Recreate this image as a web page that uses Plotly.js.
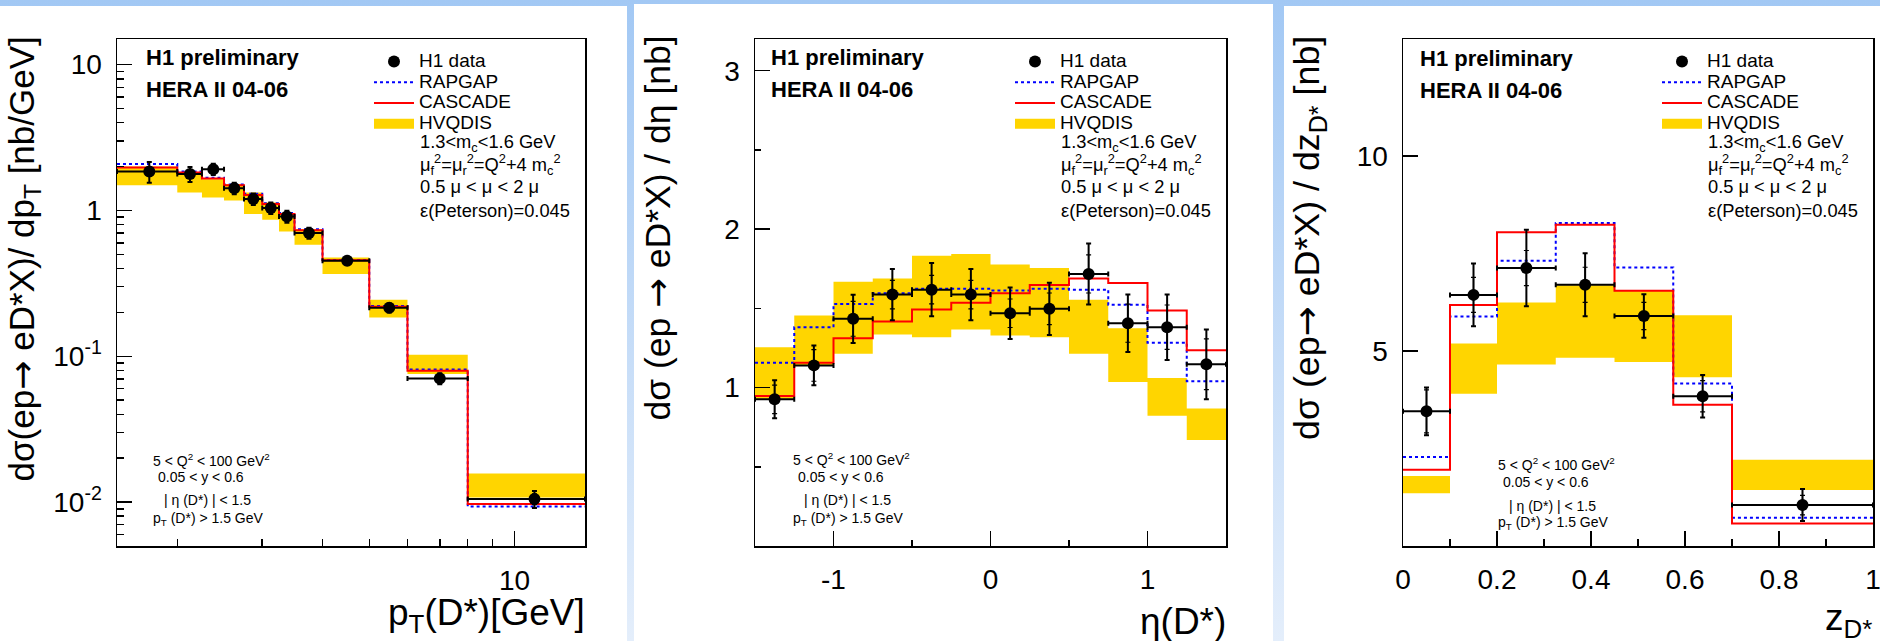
<!DOCTYPE html>
<html><head><meta charset="utf-8">
<script src="https://cdn.plot.ly/plotly-3.0.1.min.js"></script>
<style>
html,body{margin:0;padding:0;background:#fff;}
#wrap{position:relative;width:1880px;height:641px;background:linear-gradient(#a2c8f4,#e4eefb);overflow:hidden;}
.pn{position:absolute;background:#fff;bottom:0;}
#plot{position:absolute;left:0;top:0;width:1880px;height:641px;}
</style></head><body>
<div id="wrap">
<div class="pn" style="left:0;width:627px;top:6px"></div>
<div class="pn" style="left:634px;width:639px;top:4px"></div>
<div class="pn" style="left:1284px;width:596px;top:6px"></div>
<div id="plot"></div>
</div>
<script>
// ---- p_T(D*) panel ----
const ptEdges   = [1.5, 2.0, 2.25, 2.5, 2.75, 3.0, 3.25, 3.5, 4.0, 5.0, 6.0, 8.0, 14.0];
const ptData    = [1.85, 1.78, 1.92, 1.42, 1.20, 1.04, 0.91, 0.70, 0.452, 0.215, 0.0704, 0.0105];
const ptErr     = [0.30, 0.21, 0.17, 0.13, 0.11, 0.095, 0.085, 0.06, 0.03, 0.015, 0.006, 0.0014];
const ptStat    = [0.12, 0.09, 0.08, 0.06, 0.05, 0.04, 0.04, 0.03, 0.015, 0.008, 0.004, 0.0009];
const ptRapgap  = [2.08, 1.85, 1.68, 1.51, 1.30, 1.12, 0.96, 0.745, 0.458, 0.221, 0.0812, 0.00933];
const ptCascade = [1.97, 1.82, 1.66, 1.49, 1.275, 1.106, 0.945, 0.733, 0.455, 0.2186, 0.0796, 0.0097];
const ptHvqLo   = [1.49, 1.33, 1.23, 1.17, 0.945, 0.863, 0.718, 0.582, 0.367, 0.1846, 0.0755, 0.01076];
const ptHvqHi   = [2.0, 1.76, 1.64, 1.52, 1.33, 1.135, 0.945, 0.745, 0.476, 0.244, 0.1024, 0.0157];

// ---- eta(D*) panel ----
const etaEdges   = [-1.5, -1.25, -1.0, -0.75, -0.5, -0.25, 0, 0.25, 0.5, 0.75, 1.0, 1.25, 1.5];
const etaData    = [0.926, 1.14, 1.434, 1.587, 1.618, 1.587, 1.469, 1.497, 1.717, 1.406, 1.381, 1.147];
const etaErr     = [0.12, 0.126, 0.152, 0.162, 0.168, 0.162, 0.162, 0.165, 0.193, 0.181, 0.207, 0.22];
const etaStat    = [0.09, 0.10, 0.11, 0.09, 0.09, 0.09, 0.09, 0.10, 0.12, 0.12, 0.14, 0.16];
const etaRapgap  = [1.157, 1.381, 1.528, 1.595, 1.623, 1.623, 1.612, 1.623, 1.618, 1.522, 1.283, 1.04];
const etaCascade = [0.947, 1.157, 1.312, 1.417, 1.492, 1.535, 1.595, 1.648, 1.689, 1.66, 1.486, 1.235];
const etaHvqLo   = [0.929, 1.14, 1.214, 1.335, 1.318, 1.367, 1.329, 1.318, 1.214, 1.035, 0.822, 0.669];
const etaHvqHi   = [1.255, 1.455, 1.668, 1.689, 1.832, 1.843, 1.776, 1.755, 1.555, 1.375, 1.061, 0.868];

// ---- z(D*) panel ----
const zEdges   = [0, 0.1, 0.2, 0.325, 0.45, 0.575, 0.7, 1.0];
const zData    = [3.453, 6.439, 7.127, 6.698, 5.898, 3.839, 1.05];
const zErr     = [0.614, 0.807, 0.98, 0.81, 0.56, 0.545, 0.41];
const zStat    = [0.55, 0.45, 0.45, 0.45, 0.35, 0.40, 0.25];
const zRapgap  = [2.28, 5.883, 7.315, 8.285, 7.144, 4.166, 0.724];
const zCascade = [1.952, 6.182, 8.046, 8.234, 6.542, 3.625, 0.579];
const zHvqLo   = [1.35, 3.906, 4.655, 4.827, 4.716, 4.328, 1.437];
const zHvqHi   = [1.797, 5.195, 6.244, 6.689, 6.542, 5.917, 2.209];

// ---- tick labels ----
const ptYTickVals  = [0.01, 0.1, 1, 10];
const ptYTickText  = ['10<sup>-2</sup>', '10<sup>-1</sup>', '1', '10'];
const ptXTickVals  = [10];
const ptXTickText  = ['10'];
const etaXTickVals = [-1, 0, 1];
const etaXTickText = ['-1', '0', '1'];
const etaYTickVals = [1, 2, 3];
const etaYTickText = ['1', '2', '3'];
const zXTickVals   = [0, 0.2, 0.4, 0.6, 0.8, 1];
const zXTickText   = ['0', '0.2', '0.4', '0.6', '0.8', '1'];
const zYTickVals   = [5, 10];
const zYTickText   = ['5', '10'];

const FONT = 'Liberation Sans, Arial, Helvetica, sans-serif';
const YEL = '#ffd500';
const W = 1880, H = 641;
const px = v => v / W;
const py = v => 1 - v / H;
const LEGSIZE = 19;
const EXTRASIZE = 18.3;

function centers(e) { return e.slice(0, -1).map((v, i) => (v + e[i + 1]) / 2); }
function stepY(v) { return v.concat([v[v.length - 1]]); }
function bandXY(e, lo, hi) {
  const x = [], y = [];
  for (let i = 0; i < lo.length; i++) {
    x.push(e[i], e[i + 1], e[i + 1], e[i], e[i], null);
    y.push(lo[i], lo[i], hi[i], hi[i], lo[i], null);
  }
  return {x, y};
}
const big = s => '<span style="font-size:' + LEGSIZE + 'px">' + s + '</span>';
const arrow = '<span style="font-family:DejaVu Sans">→</span>';

function panelTraces(e, data, err, stat, rap, cas, lo, hi, xa, ya, leg, msize) {
  const c = centers(e);
  const band = bandXY(e, lo, hi);
  const exP = c.map((v, i) => e[i + 1] - v);
  const exM = c.map((v, i) => v - e[i]);
  return [
    {type: 'scatter', x: band.x, y: band.y, xaxis: xa, yaxis: ya, mode: 'lines', fill: 'toself',
     fillcolor: YEL, line: {width: 0, color: YEL}, showlegend: false, hoverinfo: 'skip', legend: leg},
    {type: 'scatter', x: [null], y: [null], xaxis: xa, yaxis: ya, mode: 'lines',
     line: {color: YEL, width: 16}, name: big('HVQDIS'), legend: leg, legendrank: 4},
    {type: 'scatter', x: e, y: stepY(rap), xaxis: xa, yaxis: ya, mode: 'lines',
     line: {shape: 'hv', color: '#0000ff', width: 2, dash: 'dot'}, name: big('RAPGAP'), legend: leg, legendrank: 2},
    {type: 'scatter', x: e, y: stepY(cas), xaxis: xa, yaxis: ya, mode: 'lines',
     line: {shape: 'hv', color: '#ff0000', width: 2}, name: big('CASCADE'), legend: leg, legendrank: 3},
    {type: 'scatter', x: c, y: data, xaxis: xa, yaxis: ya, mode: 'markers',
     marker: {size: 1, opacity: 0}, showlegend: false, legend: leg,
     error_y: {type: 'data', array: stat, color: '#000', thickness: 1.2, width: 2.5}},
    {type: 'scatter', x: c, y: data, xaxis: xa, yaxis: ya, mode: 'markers',
     marker: {color: '#000', size: msize}, name: big('H1 data'), legend: leg, legendrank: 1,
     error_y: {type: 'data', array: err, color: '#000', thickness: 2, width: 2.5},
     error_x: {type: 'data', symmetric: false, array: exP, arrayminus: exM, color: '#000', thickness: 2, width: 2.5}}
  ];
}

const traces = [].concat(
  panelTraces(ptEdges, ptData, ptErr, ptStat, ptRapgap, ptCascade, ptHvqLo, ptHvqHi, 'x', 'y', 'legend', 12),
  panelTraces(etaEdges, etaData, etaErr, etaStat, etaRapgap, etaCascade, etaHvqLo, etaHvqHi, 'x2', 'y2', 'legend2', 12),
  panelTraces(zEdges, zData, zErr, zStat, zRapgap, zCascade, zHvqLo, zHvqHi, 'x3', 'y3', 'legend3', 12)
);

function decadeMinors(lo, hi) {
  const out = [];
  for (let d = lo; d <= hi; d++) for (let k = 2; k <= 9; k++) out.push(k * Math.pow(10, d));
  return out;
}

function axis(dom, extra) {
  return Object.assign({
    domain: dom, showline: true, mirror: true, linecolor: '#000', linewidth: 1.5,
    showgrid: false, zeroline: false, ticks: 'inside', ticklen: 15, tickwidth: 1.5, tickcolor: '#000',
    tickmode: 'array', tickfont: {family: FONT, size: 28, color: '#000'}, fixedrange: true,
    ticklabeloverflow: 'allow'
  }, extra);
}
const yDom = [py(546), py(39)];

const layout = {
  width: W, height: H, margin: {l: 0, r: 0, t: 0, b: 0},
  paper_bgcolor: 'rgba(0,0,0,0)', plot_bgcolor: '#fff',
  font: {family: FONT, color: '#000'},
  showlegend: true,
  xaxis: axis([px(117), px(585)], {type: 'log', range: [Math.log10(1.5), Math.log10(14)], anchor: 'y',
    tickvals: ptXTickVals, ticktext: ptXTickText, ticklabelstandoff: 9,
    minor: {tickmode: 'array', tickvals: decadeMinors(0, 0), ticks: 'inside', ticklen: 7, tickwidth: 1.5, tickcolor: '#000', showgrid: false}}),
  yaxis: axis(yDom, {type: 'log', range: [Math.log10(0.005), Math.log10(15)], anchor: 'x',
    tickvals: ptYTickVals, ticktext: ptYTickText, ticklabelstandoff: 8,
    minor: {tickmode: 'array', tickvals: decadeMinors(-3, 0), ticks: 'inside', ticklen: 7, tickwidth: 1.5, tickcolor: '#000', showgrid: false}}),
  xaxis2: axis([px(755), px(1226)], {range: [-1.5, 1.5], anchor: 'y2',
    tickvals: etaXTickVals, ticktext: etaXTickText, ticklabelstandoff: 8,
    minor: {tickmode: 'array', tickvals: [-0.5, 0.5], ticks: 'inside', ticklen: 6, tickwidth: 1.5, tickcolor: '#000', showgrid: false}}),
  yaxis2: axis(yDom, {range: [0, 3.2], anchor: 'x2',
    tickvals: etaYTickVals, ticktext: etaYTickText, ticklabelstandoff: 8,
    minor: {tickmode: 'array', tickvals: [0.5, 1.5, 2.5], ticks: 'inside', ticklen: 6, tickwidth: 1.5, tickcolor: '#000', showgrid: false}}),
  xaxis3: axis([px(1403), px(1873)], {range: [0, 1], anchor: 'y3',
    tickvals: zXTickVals, ticktext: zXTickText, ticklabelstandoff: 8,
    minor: {tickmode: 'array', tickvals: [0.1, 0.3, 0.5, 0.7, 0.9], ticks: 'inside', ticklen: 7, tickwidth: 1.5, tickcolor: '#000', showgrid: false}}),
  yaxis3: axis(yDom, {range: [0, 13], anchor: 'x3',
    tickvals: zYTickVals, ticktext: zYTickText, ticklabelstandoff: 8})
};

function legendCfg(textLeft) {
  return {x: px(textLeft - 53), xanchor: 'left', y: py(46), yanchor: 'top',
    bgcolor: 'rgba(0,0,0,0)', borderwidth: 0, itemwidth: 40, traceorder: 'normal',
    font: {family: FONT, size: 13.7, color: '#000'}};
}
layout.legend = legendCfg(422);
layout.legend2 = legendCfg(1063);
layout.legend3 = legendCfg(1710);

const ann = [];
function txt(text, x, y, size, opts) {
  ann.push(Object.assign({text: text, x: px(x), y: py(y), xref: 'paper', yref: 'paper',
    showarrow: false, xanchor: 'left', yanchor: 'middle', font: {family: FONT, size: size, color: '#000'}}, opts || {}));
}
const hdr = ['<b>H1 preliminary</b>', '<b>HERA II 04-06</b>'];
const extra = ['1.3&lt;m<sub>c</sub>&lt;1.6 GeV',
  'μ<sub>f</sub><sup>2</sup>=μ<sub>r</sub><sup>2</sup>=Q<sup>2</sup>+4 m<sub>c</sub><sup>2</sup>',
  '0.5 μ &lt; μ &lt; 2 μ', 'ε(Peterson)=0.045'];
const cuts = ['5 &lt; Q<sup>2</sup> &lt; 100 GeV<sup>2</sup>', '0.05 &lt; y &lt; 0.6',
  '| η (D*) | &lt; 1.5', 'p<sub>T</sub> (D*) &gt; 1.5 GeV'];

function panelText(hx, hy, legX, cutX, cutY) {
  txt(hdr[0], hx, hy, 22);
  txt(hdr[1], hx, hy + 32, 22);
  const ey = [143, 164, 187, 210];
  extra.forEach((t, i) => txt(t, legX - 4, ey[i], EXTRASIZE));
  const dx = [0, 5, 11, 0];
  cuts.forEach((t, i) => txt(t, cutX + dx[i] - 2, cutY[i], 14));
}
panelText(144, 57, 422, 153, [460, 477, 500, 519]);
panelText(769, 57, 1063, 793, [459, 477, 500, 519]);
panelText(1418, 59, 1710, 1498, [464, 482, 506, 523]);

// axis titles
txt('dσ(ep' + arrow + ' eD*X)/ dp<sub>T</sub> [nb/GeV]', 23, 35, 35, {textangle: -90, xanchor: 'center', yanchor: 'top'});
txt('dσ (ep ' + arrow + ' eD*X) / dη [nb]', 657, 34, 35.5, {textangle: -90, xanchor: 'center', yanchor: 'top'});
txt('dσ (ep' + arrow + ' eD*X) / dz<sub>D*</sub> [nb]', 1309, 34, 35.8, {textangle: -90, xanchor: 'center', yanchor: 'top'});
txt('p<sub>T</sub>(D*)[GeV]', 587, 615, 37, {xanchor: 'right'});
txt('η(D*)', 1228, 621, 37, {xanchor: 'right'});
txt('z<sub>D*</sub>', 1874, 620, 37, {xanchor: 'right'});
layout.annotations = ann;

Plotly.newPlot('plot', traces, layout, {staticPlot: true, displayModeBar: false});
</script></body></html>
